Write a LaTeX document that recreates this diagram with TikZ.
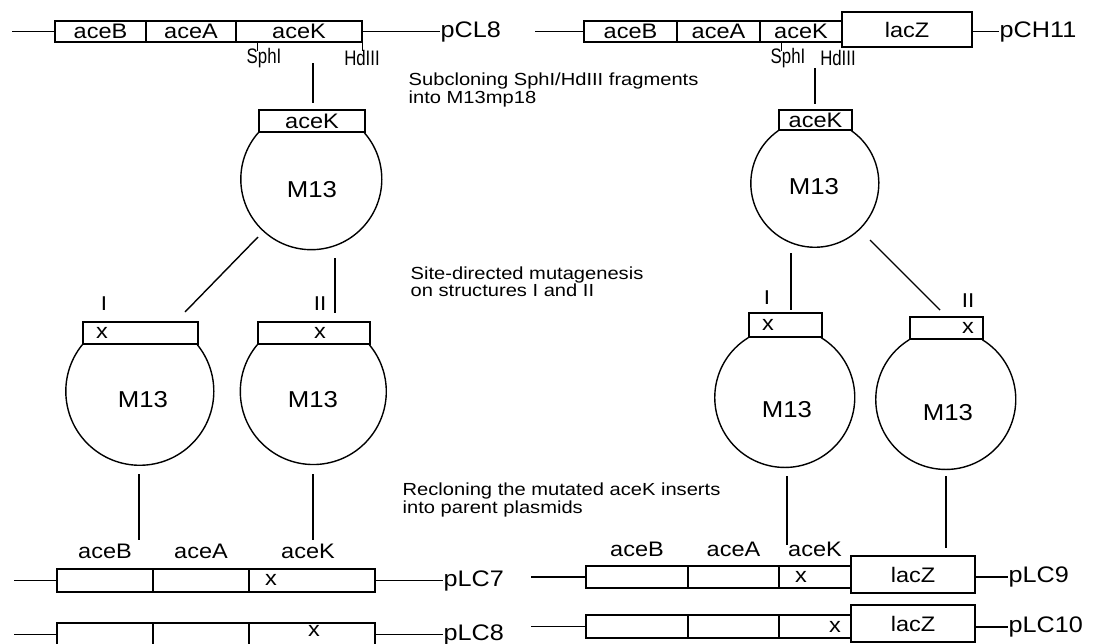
\documentclass[tikz,border=0pt]{standalone}
\usepackage{fontspec}
\setmainfont[FakeStretch=1.12]{Liberation Sans}
\newfontfamily\notefont[FakeStretch=1.15]{Liberation Sans}
\newfontfamily\sitefont[FakeStretch=0.8]{Liberation Sans}
\usepackage{tikz}
\usetikzlibrary{positioning}

\begin{document}
\begin{tikzpicture}[x=1pt, y=1pt, line width=1.4pt,
    gene/.style={draw, fill=white, inner sep=0pt, minimum height=22pt, font=\fontsize{21}{24}\selectfont},
    lbl/.style={inner sep=0pt, font=\fontsize{21}{24}\selectfont},
    plas/.style={inner sep=0pt, anchor=west, font=\fontsize{22.5}{25}\selectfont},
    mtxt/.style={inner sep=0pt, font=\fontsize{23}{26}\selectfont},
    mut/.style={inner sep=0pt, font=\fontsize{21}{22}\selectfont},
    rom/.style={inner sep=0pt, font=\fontsize{20}{22}\selectfont},
    site/.style={inner sep=0pt, font=\sitefont\fontsize{21}{22}\selectfont},
    note/.style={inner sep=0pt, align=left, anchor=west, font=\notefont\fontsize{17.5}{15}\selectfont}]

    \clip (0,0) rectangle (1098,-643);

    % pCL8 (top left)
    \node[gene, minimum width=91pt, minimum height=21pt] (pcB) at (100.5,-31.5) {aceB};
    \node[gene, minimum width=90pt, minimum height=21pt] (pcA) at (191,-31.5) {aceA};
    \node[gene, minimum width=126pt, minimum height=21pt] (pcK) at (299,-31.5) {aceK};
    \node[plas] (pcl8) at (440,-31.5) {pCL8};
    \coordinate (pcE) at (12,-31.5);
    \draw (pcE) -- (pcB);
    \draw (pcK) -- (pcl8);
    \draw (pcK.south west) ++(22,0) -- ++(0,-8);
    \draw (pcK.south east) -- ++(0,-8);
    \node[site] (sph1) at (264,-58) {SphI};
    \node[site] (hd1) at (362,-58) {HdIII};

    % pCH11 (top right)
    \node[gene, minimum width=93pt, minimum height=21pt] (phB) at (630.5,-31.5) {aceB};
    \node[gene, minimum width=83pt, minimum height=21pt] (phA) at (718.5,-31.5) {aceA};
    \node[gene, minimum width=82pt, minimum height=21pt] (phK) at (801,-31.5) {aceK};
    \node[gene, minimum width=130pt, minimum height=35pt] (phZ) at (907,-29.5) {lacZ};
    \node[plas] (pch11) at (999,-31.5) {pCH11};
    \coordinate (phE) at (535,-31.5);
    \draw (phE) -- (phB);
    \draw (phZ.east |- pch11.west) -- (pch11.west);
    \draw (phK.south west) ++(22,0) -- ++(0,-8);
    \node[site] (sph2) at (788,-58) {SphI};
    \node[site] (hd2) at (838,-58) {HdIII};

    % notes
    \node[note] (n1) at (408,-90) {Subcloning SphI/HdIII fragments\\into M13mp18};
    \node[note] (n2) at (410,-282) {Site-directed mutagenesis\\on structures I and II};
    \node[note] (n3) at (402,-500) {Recloning the mutated aceK inserts\\into parent plasmids};

    % M13 with aceK, left
    \node[gene, minimum width=106pt] (mk0) at (312,-121) {aceK};
    \draw (mk0.south west) arc[radius=70.5, start angle=138.75, end angle=401.25];
    \node[mtxt] (m0) at (312,-190) {M13};

    % structure I, left
    \node[gene, minimum width=115pt] (mk1) at (140.5,-333) {};
    \draw (mk1.south west) arc[radius=74, start angle=141, end angle=399];
    \node[mut] (x1) at (102,-333) {x};
    \node[rom] (r1) at (104,-304) {I};
    \node[mtxt] (m1) at (143,-400) {M13};

    % structure II, left
    \node[gene, minimum width=112pt] (mk2) at (314,-333) {};
    \draw (mk2.south west) arc[radius=73, start angle=140.1, end angle=399.9];
    \node[mut] (x2) at (320,-333) {x};
    \node[rom] (r2) at (320,-304) {II};
    \node[mtxt] (m2) at (313,-400) {M13};

    % M13 with aceK, right
    \node[gene, minimum width=73pt, minimum height=20pt] (mk3) at (815.5,-120) {aceK};
    \draw (mk3.south west) arc[radius=64, start angle=124.8, end angle=415.2];
    \node[mtxt] (m3) at (814,-187) {M13};

    % structure I, right
    \node[gene, minimum width=73pt, minimum height=24pt] (mk4) at (785.5,-325) {};
    \draw (mk4.south west) arc[radius=70, start angle=121.4, end angle=418.6];
    \node[mut] (x4) at (768,-325) {x};
    \node[rom] (r4) at (767,-298) {I};
    \node[mtxt] (m4) at (787,-410) {M13};

    % structure II, right
    \node[gene, minimum width=73pt] (mk5) at (946.5,-328) {};
    \draw (mk5.south west) arc[radius=70, start angle=121.4, end angle=418.6];
    \node[mut] (x5) at (968,-328) {x};
    \node[rom] (r5) at (968,-301) {II};
    \node[mtxt] (m5) at (948,-413) {M13};

    % connecting lines
    \coordinate (a0) at (313,-63);   \coordinate (b0) at (313,-103);
    \coordinate (a1) at (258,-237);  \coordinate (b1) at (185,-312);
    \coordinate (a2) at (335,-258);  \coordinate (b2) at (335,-313);
    \coordinate (a3) at (139,-474);  \coordinate (b3) at (139,-540);
    \coordinate (a4) at (313,-474);  \coordinate (b4) at (313,-540);
    \coordinate (a5) at (815,-68);   \coordinate (b5) at (815,-104);
    \coordinate (a6) at (791,-253);  \coordinate (b6) at (791,-310);
    \coordinate (a7) at (870,-240);  \coordinate (b7) at (940,-310);
    \coordinate (a8) at (787,-476);  \coordinate (b8) at (787,-545);
    \coordinate (a9) at (946,-476);  \coordinate (b9) at (946,-548);
    \foreach \i in {0,...,9}
        \draw (a\i) -- (b\i);

    % pLC7
    \node[gene, minimum width=96pt, minimum height=23pt] (l7B) at (105,-580.5) {};
    \node[gene, minimum width=96pt, minimum height=23pt] (l7A) at (201,-580.5) {};
    \node[gene, minimum width=126pt, minimum height=23pt] (l7K) at (312,-580.5) {};
    \node[lbl, above=9pt of l7B] (t7B) {aceB};
    \node[lbl, above=9pt of l7A] (t7A) {aceA};
    \node[lbl, above=9pt of l7K, xshift=-4pt] (t7K) {aceK};
    \node[mut] (x7) at (271,-580) {x};
    \node[plas] (plc7) at (443,-580.5) {pLC7};
    \coordinate (l7E) at (14,-580.5);
    \draw (l7E) -- (l7B);
    \draw (l7K) -- (plc7);

    % pLC8
    \node[gene, minimum width=96pt, minimum height=23pt] (l8B) at (105,-634.5) {};
    \node[gene, minimum width=96pt, minimum height=23pt] (l8A) at (201,-634.5) {};
    \node[gene, minimum width=126pt, minimum height=23pt] (l8K) at (312,-634.5) {};
    \node[mut] (x8) at (314,-631) {x};
    \node[plas] (plc8) at (443,-634.5) {pLC8};
    \coordinate (l8E) at (14,-634.5);
    \draw (l8E) -- (l8B);
    \draw (l8K) -- (plc8);

    % pLC9
    \node[gene, minimum width=102pt] (r9B) at (637,-577) {};
    \node[gene, minimum width=91pt] (r9A) at (733.5,-577) {};
    \node[gene, minimum width=72pt] (r9K) at (815,-577) {};
    \node[gene, minimum width=124pt, minimum height=37pt] (r9Z) at (913,-574.5) {lacZ};
    \node[lbl, above=8pt of r9B] (t9B) {aceB};
    \node[lbl, above=8pt of r9A] (t9A) {aceA};
    \node[lbl, above=8pt of r9K] (t9K) {aceK};
    \node[mut] (x9) at (801,-577) {x};
    \node[plas] (plc9) at (1008,-577) {pLC9};
    \coordinate (r9E) at (531,-577);
    \draw (r9E) -- (r9B);
    \draw (r9Z.east |- plc9.west) -- (plc9.west);

    % pLC10
    \node[gene, minimum width=102pt, minimum height=23pt] (r10B) at (637,-626.5) {};
    \node[gene, minimum width=91pt, minimum height=23pt] (r10A) at (733.5,-626.5) {};
    \node[gene, minimum width=72pt, minimum height=23pt] (r10K) at (815,-626.5) {};
    \node[gene, minimum width=124pt, minimum height=37pt] (r10Z) at (913,-623.5) {lacZ};
    \node[mut] (x10) at (835,-627) {x};
    \node[plas] (plc10) at (1008,-627) {pLC10};
    \coordinate (r10E) at (531,-626.5);
    \draw (r10E) -- (r10B);
    \draw (r10Z.east |- plc10.west) -- (plc10.west);
\end{tikzpicture}
\end{document}
